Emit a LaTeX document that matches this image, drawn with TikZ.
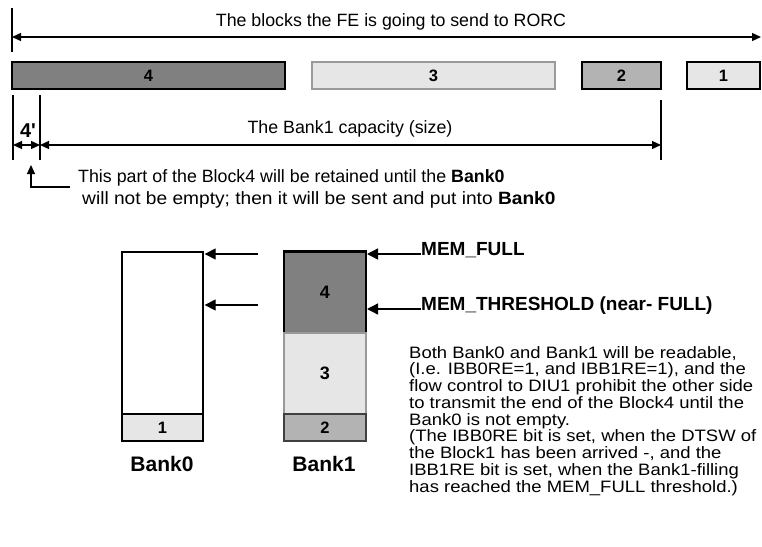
\documentclass[tikz,border=0pt]{standalone}
\usepackage{fontspec}
\setmainfont{Liberation Sans}[Ligatures=TeXOff]
\newfontfamily\parafont{Liberation Sans}[FakeStretch=1.12,Ligatures=TeXOff]
\newfontfamily\notefont{Liberation Sans}[FakeStretch=1.075,Ligatures=TeXOff]
\usetikzlibrary{arrows.meta}
\definecolor{dark}{HTML}{808080}
\definecolor{light}{HTML}{E6E6E6}
\definecolor{mid}{HTML}{B3B3B3}
\definecolor{edgegray}{HTML}{999999}
\begin{document}
\begin{tikzpicture}[x=1pt,y=-1pt,
  every node/.style={inner sep=0pt},
  ln/.style={line width=1.3pt},
  sm/.style={-{Triangle[length=9pt,width=8pt]}},
  dsm/.style={{Triangle[length=9pt,width=8pt]}-{Triangle[length=9pt,width=8pt]}},
  big/.style={-{Triangle[length=11pt,width=11pt]}},
  blk/.style={draw, line width=1.2pt, minimum height=27pt, font=\bfseries\fontsize{16.5}{18}\selectfont},
  txt/.style={font=\fontsize{17.8}{22}\selectfont},
  lbl/.style={font=\bfseries\fontsize{19}{22}\selectfont},
  bank/.style={font=\bfseries\fontsize{21}{24}\selectfont},
]
\useasboundingbox (0,0) rectangle (762,546);

% top dimension
\coordinate (tl) at (12,37);
\coordinate (tr) at (761,37);
\draw[ln] (12,8) -- (12,52);
\draw[ln,dsm] (tl) -- (tr);
\node[txt,anchor=base] (title) at (391,26) {The blocks the FE is going to send to RORC};

% blocks
\node[blk,fill=dark,minimum width=273pt] (b4) at (148.5,75.5) {4};
\node[blk,fill=light,draw=edgegray,minimum width=243pt] (b3) at (433.5,75.5) {3};
\node[blk,fill=mid,minimum width=79pt] (b2) at (621.5,75.5) {2};
\node[blk,fill=light,minimum width=73pt] (b1) at (723.5,75.5) {1};

% capacity dimension
\draw[ln] (13,95) -- (13,160);
\draw[ln] (40,95) -- (40,160);
\draw[ln] (661,100) -- (661,160);
\coordinate (c0) at (13,145);
\coordinate (c1) at (40,145);
\coordinate (c2) at (661,145);
\draw[ln,dsm] (c0) -- (c1);
\draw[ln,dsm] (c1) -- (c2);
\node[font=\bfseries\fontsize{20}{22}\selectfont,anchor=base] (four) at (28,137) {4'};
\node[txt,anchor=base] (cap) at (350,133) {The Bank1 capacity (size)};

% note
\node[txt,anchor=base west] (note) at (78,182)
  {This part of the Block4 will be retained until the \textbf{Bank0}};
\node[txt,anchor=base west,font=\notefont\fontsize{17.8}{22}\selectfont] (note2) at (82,204)
  {will not be empty; then it will be sent and put into \textbf{Bank0}};
\coordinate (np) at (31,165);
\draw[ln,sm] (note.base west) ++(-8,5) -| (np);

% banks
\node[draw,line width=1.3pt,fill=white,minimum width=81pt,minimum height=162pt] (bank0) at (162.5,333) {};
\node[blk,fill=light,minimum width=81pt] (k1) at (162.5,427.5) {1};
\node[bank,anchor=base] (bank0l) at (162,471) {Bank0};

\node[blk,fill=dark,minimum width=82pt,minimum height=81pt,font=\bfseries\fontsize{18}{20}\selectfont] (k4) at (325,292.5) {4};
\node[blk,fill=light,draw=edgegray,minimum width=82pt,minimum height=81pt,font=\bfseries\fontsize{18}{20}\selectfont] (k3) at (325,373.5) {3};
\node[blk,fill=mid,draw=black!75,minimum width=82pt] (k2) at (325,427.5) {2};
\draw[line width=2.6pt] (k4.north west) -- (k4.north east);
\node[bank,anchor=base] (bank1l) at (324,471) {Bank1};

% level arrows
\node[lbl,anchor=base west] (full) at (421,255) {MEM\_FULL};
\node[lbl,anchor=base west] (thr) at (421,310) {MEM\_THRESHOLD (near- FULL)};
\coordinate (f0s) at (258,254);
\coordinate (t0s) at (258,305);
\coordinate (f0e) at (bank0.north east |- f0s);
\coordinate (t0e) at (bank0.north east |- t0s);
\coordinate (f1e) at (367,254);
\coordinate (t1e) at (367,309);
\draw[ln,big] (f0s) -- ([xshift=1pt]f0e);
\draw[ln,big] (t0s) -- ([xshift=1pt]t0e);
\draw[ln,big] (full.west |- f1e) -- (f1e);
\draw[ln,big] (thr.west |- t1e) -- (t1e);

% paragraph
\node[anchor=north west,align=left,font=\parafont\fontsize{16.5}{16.75}\selectfont] (para) at (409,346)
{Both Bank0 and Bank1 will be readable,\\
(I.e. IBB0RE=1, and IBB1RE=1), and the\\
flow control to DIU1 prohibit the other side\\
to transmit the end of the Block4 until the\\
Bank0 is not empty.\\
(The IBB0RE bit is set, when the DTSW of\\
the Block1 has been arrived -, and the\\
IBB1RE bit is set, when the Bank1-filling\\
has reached the MEM\_FULL threshold.)};
\end{tikzpicture}
\end{document}
